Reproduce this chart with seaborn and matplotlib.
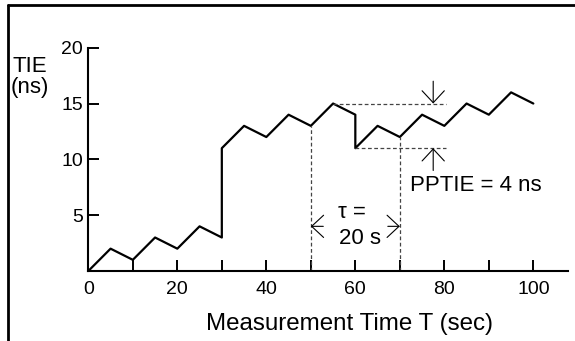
import numpy as np
import pandas as pd
import matplotlib
matplotlib.use('Agg')
import matplotlib.pyplot as plt
from matplotlib.lines import Line2D
import seaborn as sns

# TIE samples (vertical jumps at 30 s and 60 s)
time_s = [0, 5, 10, 15, 20, 25, 30, 30, 35, 40, 45, 50, 55, 60, 60,
          65, 70, 75, 80, 85, 90, 95, 100]
tie_ns = [0, 2, 1, 3, 2, 4, 3, 11, 13, 12, 14, 13, 15, 14, 11,
          13, 12, 14, 13, 15, 14, 16, 15]

x_ticks = [0, 20, 40, 60, 80, 100]
x_minor = [10, 30, 50, 70, 90]
y_ticks = [5, 10, 15, 20]

# observation window tau and the peak-to-peak values inside it
tau_start, tau_end = 50, 70
tie_at_start, tie_at_end = 13, 12
peak_time, peak_tie = 55, 15
trough_time, trough_tie = 60, 11
pptie_x = 77.5

df = pd.DataFrame({'T': time_s, 'TIE': tie_ns})

sns.set_theme(style='white')
plt.rcParams['font.family'] = ['Liberation Sans', 'DejaVu Sans']

fig = plt.figure(figsize=(5.75, 3.41), dpi=100)
ax = fig.add_axes([0.1536, 0.2053, 0.8343, 0.6548])

sns.lineplot(data=df, x='T', y='TIE', sort=False, estimator=None,
             color='black', lw=1.6, ax=ax)

ax.set_xlim(0, 107.8)
ax.set_ylim(0, 20)
ax.set_xticks(x_ticks)
ax.set_xticks(x_minor, minor=True)
ax.set_yticks(y_ticks)
ax.tick_params(axis='both', which='both', direction='in', length=8,
               width=1.4, color='black', labelsize=14, labelcolor='black',
               bottom=True, left=True)
ax.tick_params(axis='x', which='both', pad=7)
ax.tick_params(axis='y', pad=4)

for side in ['top', 'right']:
    ax.spines[side].set_visible(False)
for side in ['left', 'bottom']:
    ax.spines[side].set_color('black')
    ax.spines[side].set_linewidth(1.5)

ax.set_xlabel('Measurement Time T (sec)', fontsize=17.4, color='black')
ax.xaxis.label.set_va('center')
ax.xaxis.set_label_coords(0.5435, -0.237)
ax.set_ylabel('')

# dashed guide lines
dash = dict(color='#444444', lw=0.9, ls=(0, (3, 2)))
ax.plot([tau_start, tau_start], [0, tie_at_start], **dash)
ax.plot([tau_end, tau_end], [0, tie_at_end], **dash)
ax.plot([peak_time, 80.3], [peak_tie, peak_tie], **dash)
ax.plot([trough_time, 80.3], [trough_tie, trough_tie], **dash)

arrow = dict(arrowstyle='->,head_length=0.43,head_width=0.4',
             lw=0.8, color='black', mutation_scale=20, shrinkA=0, shrinkB=0)
ax.annotate('', xy=(pptie_x, peak_tie), xytext=(pptie_x, 17.0),
            arrowprops=arrow)
ax.annotate('', xy=(pptie_x, trough_tie), xytext=(pptie_x, 9.0),
            arrowprops=arrow)
ax.annotate('', xy=(tau_start, 4), xytext=(52.8, 4), arrowprops=arrow)
ax.annotate('', xy=(tau_end, 4), xytext=(67.3, 4), arrowprops=arrow)

ax.text(72.3, 7.7, 'PPTIE = 4 ns', ha='left', va='center', fontsize=16,
        color='black')
ax.text(59.3, 5.2, 'τ =', ha='center', va='center', fontsize=16,
        color='black')
ax.text(61.0, 2.9, '20 s', ha='center', va='center', fontsize=16,
        color='black')

fig.text(29.5 / 575, 1 - 77 / 341, 'TIE\n(ns)', ha='center', va='center',
         multialignment='center', linespacing=1.05, fontsize=16,
         color='black')

# frame around the figure (left and top edges visible)
fig.add_artist(Line2D([8 / 575, 8 / 575], [0, 1 - 4.7 / 341], color='black',
                      lw=2, transform=fig.transFigure))
fig.add_artist(Line2D([8 / 575, 1], [1 - 4.7 / 341, 1 - 4.7 / 341],
                      color='black', lw=2, transform=fig.transFigure))

fig.savefig('out.png', dpi=100)
